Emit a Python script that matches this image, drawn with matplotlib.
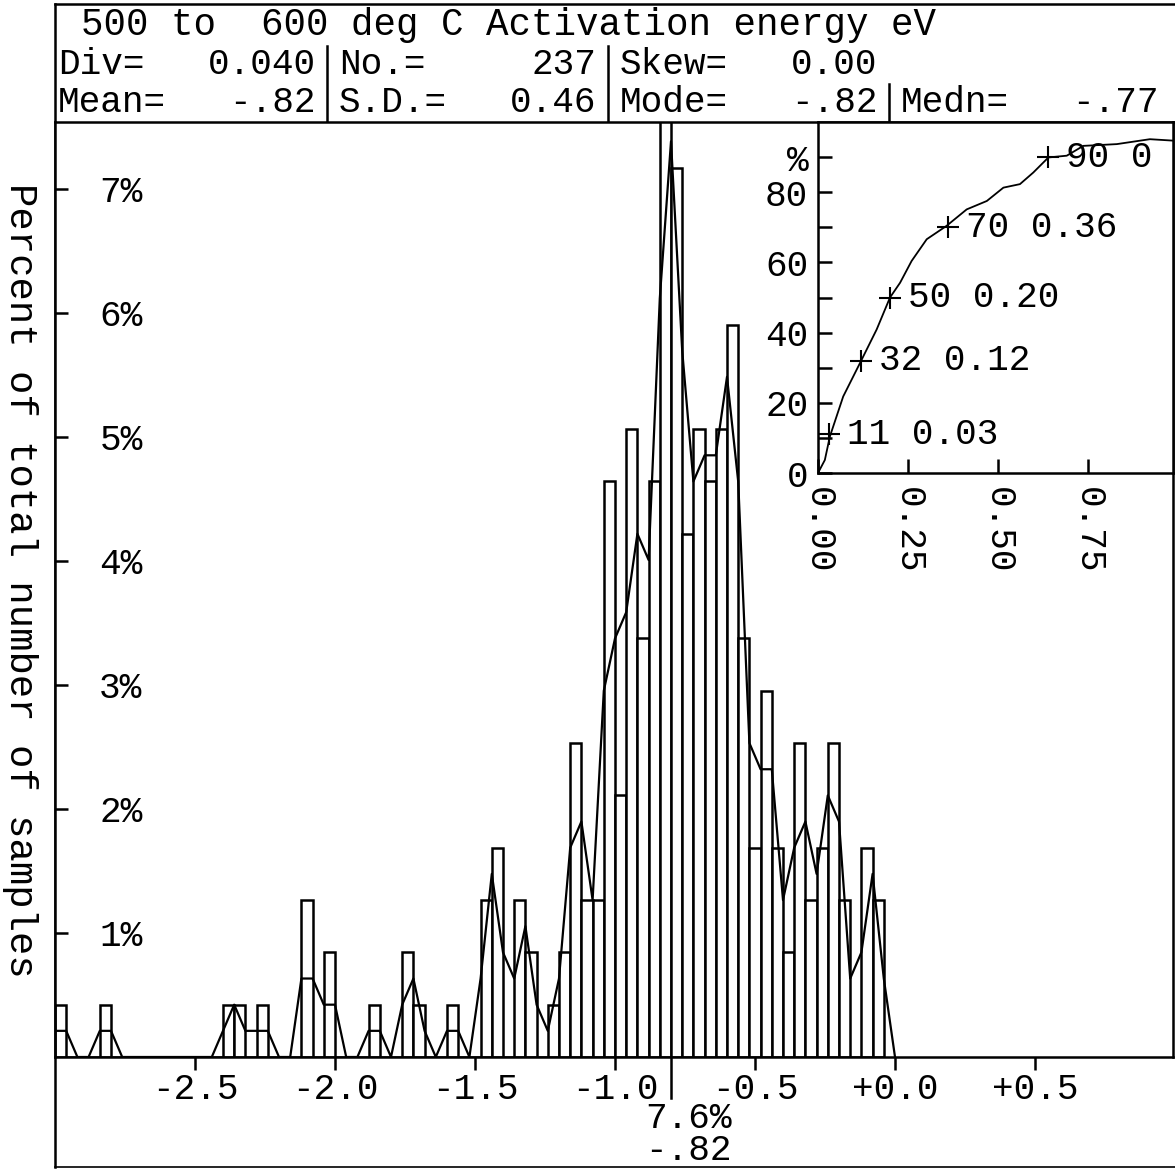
import numpy as np
import matplotlib
matplotlib.use("Agg")
import matplotlib.pyplot as plt

# ---- data ----
n_samples = 237
div = 0.040            # bin width (eV)
bin_start = -3.00      # left edge of first bin
# samples per bin, bin k covers [bin_start + k*div, bin_start + (k+1)*div]
counts = [1, 0, 0, 0, 1, 0, 0, 0, 0, 0,
          0, 0, 0, 0, 0, 1, 1, 0, 1, 0,
          0, 0, 3, 0, 2, 0, 0, 0, 1, 0,
          0, 2, 1, 0, 0, 1, 0, 0, 3, 4,
          0, 3, 2, 0, 1, 2, 6, 3, 3, 11,
          5, 12, 8, 11, 18, 17, 10, 12, 11, 12,
          14, 8, 4, 7, 4, 2, 6, 3, 4, 6,
          3, 0, 4, 3]
mode_mark = -0.80

xtick_vals = [-2.5, -2.0, -1.5, -1.0, -0.5, 0.0, 0.5]
xtick_labels = ["-2.5", "-2.0", "-1.5", "-1.0", "-0.5", "+0.0", "+0.5"]
ytick_vals = [1, 2, 3, 4, 5, 6, 7]
ytick_labels = ["1%", "2%", "3%", "4%", "5%", "6%", "7%"]

# cumulative inset curve
cum_x = [0.0, 0.019, 0.033, 0.070, 0.117, 0.163, 0.200, 0.228, 0.260, 0.302,
         0.357, 0.413, 0.469, 0.515, 0.561, 0.598, 0.640, 0.691, 0.737, 0.830,
         0.922, 0.985]
cum_pct = [0.0, 3.7, 10.4, 21.8, 31.4, 40.9, 50.0, 54.2, 60.4, 66.6,
           70.4, 75.1, 77.5, 81.3, 82.3, 85.6, 89.9, 90.4, 93.2, 93.7,
           95.1, 94.7]
q_pct = [11, 32, 50, 70, 90]
q_val = [0.03, 0.12, 0.20, 0.36, 0.64]
q_labels = ["11 0.03", "32 0.12", "50 0.20", "70 0.36", "90 0"]
inset_xticks = [0.0, 0.25, 0.50, 0.75]
inset_xlabels = ["0.00", "0.25", "0.50", "0.75"]
inset_yticks = [0, 10, 20, 30, 40, 50, 60, 70, 80, 90]
inset_ylabels = ["0", "", "20", "", "40", "", "60", "", "80", "%"]

title = "500 to  600 deg C Activation energy eV"
row2 = [("Div=", "0.040"), ("No.=", "237"), ("Skew=", "0.00")]
row3 = [("Mean=", "-.82"), ("S.D.=", "0.46"), ("Mode=", "-.82"), ("Medn=", "-.77")]
mode_pct_text = "7.6%"
mode_val_text = "-.82"
ylabel = "Percent of total number of samples"

# ---- figure ----
plt.rcParams['font.family'] = ['Liberation Mono', 'DejaVu Sans Mono']
fs = 26
lw = 1.8
W, H = 1175, 1172
fig = plt.figure(figsize=(W / 100, H / 100), dpi=100)

# pixel overlay for the frame, header and footer
ov = fig.add_axes([0, 0, 1, 1], zorder=-1)
ov.set_xlim(0, W)
ov.set_ylim(H, 0)
ov.axis('off')

x0, pitch = 58, 23.42
ov.plot([55, W], [4, 4], color='k', lw=lw)
ov.plot([55, 55], [4, 1167], color='k', lw=lw)
ov.plot([55, W], [1167, 1167], color='k', lw=1.2)
ov.text(x0 + pitch, 25, title, fontsize=27, ha='left', va='center')
for i, (lab, val) in enumerate(row2):
    ov.text(x0 + 12 * i * pitch, 64, lab, fontsize=fs, ha='left', va='center')
    ov.text(x0 + (12 * i + 11) * pitch, 64, val, fontsize=fs, ha='right', va='center')
for i, (lab, val) in enumerate(row3):
    ov.text(x0 + 12 * i * pitch, 102, lab, fontsize=fs, ha='left', va='center')
    ov.text(x0 + (12 * i + 11) * pitch, 102, val, fontsize=fs, ha='right', va='center')
for i in range(3):
    xs = x0 + (12 * i + 11.5) * pitch
    top = 46 if i < 2 else 84
    ov.plot([xs, xs], [top, 122], color='k', lw=lw)
ov.text(688, 1118, mode_pct_text, fontsize=fs, ha='center', va='center')
ov.text(688, 1151, mode_val_text, fontsize=fs, ha='center', va='center')
ov.text(20, 580, ylabel, fontsize=28, rotation=-90, ha='center', va='center')

# main histogram axes
ax = fig.add_axes([55 / W, 1 - 1057 / H, 1118 / W, 935 / H])
pct = np.array(counts) / n_samples * 100
lefts = bin_start + div * np.arange(len(counts))
ax.bar(lefts, pct, width=div, align='edge', facecolor='white',
       edgecolor='black', linewidth=lw)

# frequency polygon through the bin edges (mean of neighbouring bins)
c_ext = np.concatenate([[0], pct, [0, 0]])
edge_x = bin_start + div * np.arange(len(c_ext) - 1)
edge_y = (c_ext[:-1] + c_ext[1:]) / 2
ax.plot(edge_x, edge_y, color='black', lw=1.6)

ax.plot([mode_mark, mode_mark], [0, -41 / 124], color='black', lw=lw, clip_on=False)

ax.set_xlim(bin_start, bin_start + 1118 / 280)
ax.set_ylim(0, 935 / 124)
ax.set_xticks(xtick_vals, xtick_labels)
ax.set_yticks(ytick_vals, ytick_labels)
ax.tick_params(axis='x', direction='out', length=9.5, width=lw, pad=1.5, labelsize=fs)
ax.tick_params(axis='y', direction='in', length=9, width=lw, pad=-63, labelsize=fs)
for s in ax.spines.values():
    s.set_linewidth(lw)

# cumulative inset
ins = fig.add_axes([818 / W, 1 - 473 / H, 355 / W, 351 / H])
ins.plot(cum_x, cum_pct, color='black', lw=1.3)
ins.plot(q_val, q_pct, 'k+', ms=16, mew=1.5)
for v, p, lab in zip(q_val, q_pct, q_labels):
    ins.annotate(lab, (v, p), xytext=(13, 0), textcoords='offset points',
                 ha='left', va='center', fontsize=fs, annotation_clip=False,
                 clip_on=True)
ins.set_xlim(0, 355 / 360)
ins.set_ylim(0, 100)
ins.set_xticks(inset_xticks, inset_xlabels, rotation=-90)
ins.set_yticks(inset_yticks, inset_ylabels)
ins.tick_params(direction='in', length=10, width=lw, labelsize=fs)
ins.tick_params(axis='x', pad=10)
ins.tick_params(axis='y', pad=7)
for s in ins.spines.values():
    s.set_linewidth(lw)

fig.savefig("out.png", dpi=100)
